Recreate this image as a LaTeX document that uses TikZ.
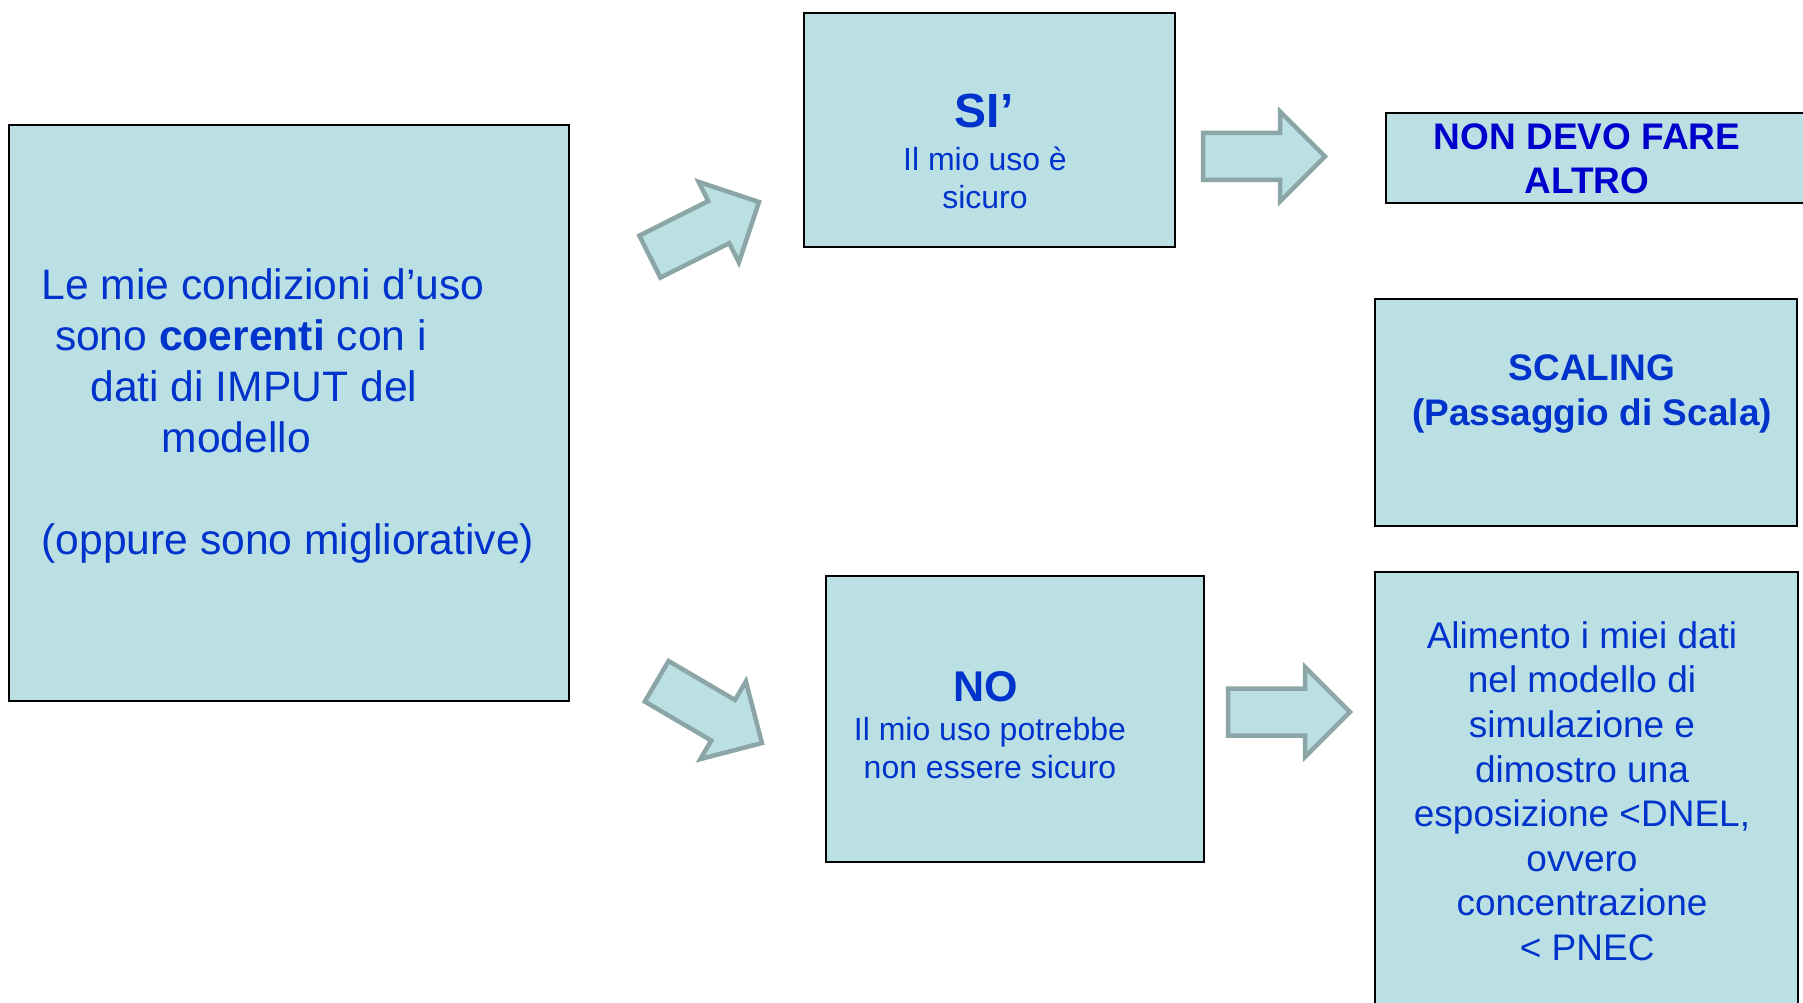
\documentclass[tikz,border=0pt]{standalone}
\usepackage{fontspec}
\setmainfont{Liberation Sans}
\definecolor{boxfill}{HTML}{BBE0E3}
\definecolor{arrline}{HTML}{8CA6A7}
\definecolor{txtblue}{HTML}{0033CC}
\definecolor{txtdark}{HTML}{0000CC}
\tikzset{
  box/.style={draw=black, line width=1.6pt, fill=boxfill, rectangle, inner sep=0pt, outer sep=0pt, anchor=north west},
  blockarrow/.style={draw=arrline, fill=boxfill, line width=4.5pt, line join=miter},
  txt/.style={inner sep=0pt, outer sep=0pt, anchor=base, text=txtblue},
}
\newcommand{\blockarr}[3]{%
  \draw[blockarrow, shift={(#1,#2)}, rotate=#3]
    (0,-23.5) -- (77,-23.5) -- (77,-45) -- (122,0) -- (77,45) -- (77,23.5) -- (0,23.5) -- cycle;}
\begin{document}
\begin{tikzpicture}[x=1pt, y=-1pt]
  \useasboundingbox (0,0) rectangle (1803,1003);
  \clip (0,0) rectangle (1803,1003);
  \fill[white] (0,0) rectangle (1803,1003);

  % boxes
  \node[box, minimum width=560pt, minimum height=576pt] (cond) at (9,125) {};
  \node[box, minimum width=371pt, minimum height=234pt] (si) at (804,13) {};
  \node[box, minimum width=440pt, minimum height=90pt] (nondevo) at (1386,113) {};
  \node[box, minimum width=422pt, minimum height=227pt] (scaling) at (1375,299) {};
  \node[box, minimum width=378pt, minimum height=286pt] (no) at (826,576) {};
  \node[box, minimum width=423pt, minimum height=460pt] (alim) at (1375,572) {};

  % block arrows
  \blockarr{649.9}{256.6}{26.6}
  \blockarr{656.7}{681.3}{-30.4}
  \blockarr{1203}{156.5}{0}
  \blockarr{1228}{712}{0}

  % texts
  \node[txt, anchor=base west, font={\fontsize{42.6}{51}\selectfont}] (condtext) at (41.7,299)
    {\begin{tabular}[t]{@{}l@{}}Le mie condizioni d’uso\\
     \hspace*{13.3pt}sono \textbf{coerenti} con i\\
     \hspace*{48.8pt}dati di IMPUT del\\
     \hspace*{120pt}modello\\
     \\
     (oppure sono migliorative)\end{tabular}};

  \node[txt, font={\fontsize{48}{56}\selectfont\bfseries}] (sititle) at (984,128) {SI’};
  \node[txt, font={\fontsize{32}{38}\selectfont}] (sisub) at (985,170.6)
    {\begin{tabular}[t]{@{}c@{}}Il mio uso è\\sicuro\end{tabular}};

  \node[txt, font={\fontsize{43}{50}\selectfont\bfseries}] (notitle) at (985.5,701.5) {NO};
  \node[txt, font={\fontsize{32}{38}\selectfont}] (nosub) at (990,740.5)
    {\begin{tabular}[t]{@{}c@{}}Il mio uso potrebbe\\non essere sicuro\end{tabular}};

  \node[txt, text=txtdark, font={\fontsize{37}{44.7}\selectfont\bfseries}] (nondevotext) at (1587,149.3)
    {\begin{tabular}[t]{@{}c@{}}NON DEVO FARE\\ALTRO\end{tabular}};

  \node[txt, font={\fontsize{37}{45}\selectfont\bfseries}] (scalingtext) at (1592,380)
    {\begin{tabular}[t]{@{}c@{}}SCALING\\(Passaggio di Scala)\end{tabular}};

  \node[txt, font={\fontsize{37}{44.6}\selectfont}] (alimtext) at (1582,648.3)
    {\begin{tabular}[t]{@{}c@{}}Alimento i miei dati\\nel modello di\\simulazione e\\dimostro una\\esposizione <DNEL,\\ovvero\\concentrazione\\\hspace*{10.3pt}< PNEC\end{tabular}};
\end{tikzpicture}
\end{document}
